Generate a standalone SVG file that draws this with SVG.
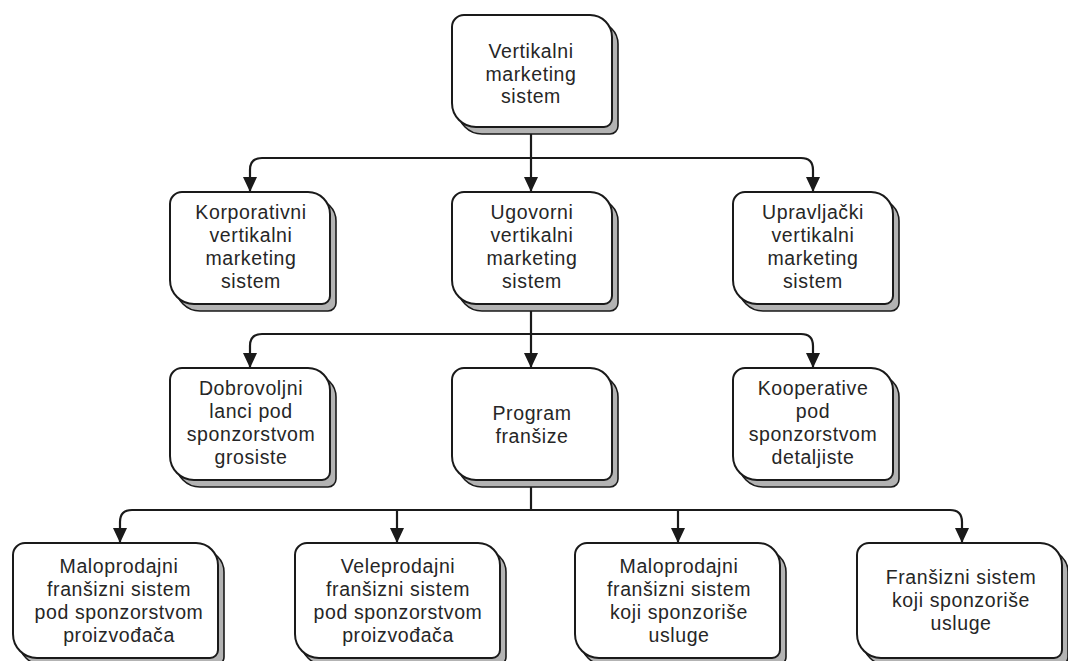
<svg xmlns="http://www.w3.org/2000/svg" xmlns:xlink="http://www.w3.org/1999/xlink" width="1068" height="661" viewBox="0 0 1068 661">
  <style>
    .shadow { fill: #b3b3b3; stroke: #1a1a1a; stroke-width: 1.6; }
    .box { fill: #ffffff; stroke: #1a1a1a; stroke-width: 2; }
    .lbl { font-family: "Liberation Sans", Arial, sans-serif; font-size: 19.5px; letter-spacing: 0.6px; fill: #262626; text-anchor: middle; }
    .wire { fill: none; stroke: #1a1a1a; stroke-width: 2.2; }
    .arrow { marker-end: url(#head); }
  </style>
  <defs>
    <!-- card outline: small top-left and bottom-right radii, large top-right and bottom-left -->
    <path id="cardA" d="M12,0 H138 A22,22 0 0 1 160,22 V104 A8,8 0 0 1 152,112 H24 A24,24 0 0 1 0,88 V12 A12,12 0 0 1 12,0 Z"/>
    <path id="cardB" d="M12,0 H183 A22,22 0 0 1 205,22 V107 A8,8 0 0 1 197,115 H24 A24,24 0 0 1 0,91 V12 A12,12 0 0 1 12,0 Z"/>
    <!-- solid triangular head, tip at the end of the line -->
    <marker id="head" markerUnits="userSpaceOnUse" markerWidth="16" markerHeight="16" viewBox="0 0 16 16" refX="15" refY="7" orient="auto">
      <path d="M0,0 L15,7 L0,14 Z" fill="#1a1a1a"/>
    </marker>
  </defs>

  <rect width="1068" height="661" fill="#ffffff"/>

  <!-- connectors -->
  <g id="connectors">
    <!-- level 1 -> level 2 -->
    <path class="wire" d="M531,128 V158"/>
    <path class="wire arrow" d="M531,158 V192"/>
    <path class="wire arrow" d="M531,158 H262 Q250,158 250,170 V192"/>
    <path class="wire arrow" d="M531,158 H801 Q813,158 813,170 V192"/>
    <!-- level 2 -> level 3 -->
    <path class="wire" d="M531,304 V334"/>
    <path class="wire arrow" d="M531,334 V368"/>
    <path class="wire arrow" d="M531,334 H262 Q250,334 250,346 V368"/>
    <path class="wire arrow" d="M531,334 H801 Q813,334 813,346 V368"/>
    <!-- level 3 -> level 4 -->
    <path class="wire" d="M531,480 V510"/>
    <path class="wire arrow" d="M531,510 H132 Q120,510 120,522 V543"/>
    <path class="wire arrow" d="M397,510 V543"/>
    <path class="wire arrow" d="M678,510 V543"/>
    <path class="wire arrow" d="M531,510 H950 Q962,510 962,522 V543"/>
  </g>

  <!-- level 1 -->
  <g id="n-vms">
    <use xlink:href="#cardA" class="shadow" x="458" y="22"/>
    <use xlink:href="#cardA" class="box" x="452" y="15"/>
    <text class="lbl" x="531" y="58">Vertikalni</text>
    <text class="lbl" x="531" y="80.5">marketing</text>
    <text class="lbl" x="531" y="103">sistem</text>
  </g>

  <!-- level 2 -->
  <g id="n-korporativni">
    <use xlink:href="#cardA" class="shadow" x="176" y="199"/>
    <use xlink:href="#cardA" class="box" x="170" y="192"/>
    <text class="lbl" x="251" y="219">Korporativni</text>
    <text class="lbl" x="251" y="242">vertikalni</text>
    <text class="lbl" x="251" y="265">marketing</text>
    <text class="lbl" x="251" y="288">sistem</text>
  </g>
  <g id="n-ugovorni">
    <use xlink:href="#cardA" class="shadow" x="458" y="199"/>
    <use xlink:href="#cardA" class="box" x="452" y="192"/>
    <text class="lbl" x="532" y="219">Ugovorni</text>
    <text class="lbl" x="532" y="242">vertikalni</text>
    <text class="lbl" x="532" y="265">marketing</text>
    <text class="lbl" x="532" y="288">sistem</text>
  </g>
  <g id="n-upravljacki">
    <use xlink:href="#cardA" class="shadow" x="739" y="199"/>
    <use xlink:href="#cardA" class="box" x="733" y="192"/>
    <text class="lbl" x="813" y="219">Upravljački</text>
    <text class="lbl" x="813" y="242">vertikalni</text>
    <text class="lbl" x="813" y="265">marketing</text>
    <text class="lbl" x="813" y="288">sistem</text>
  </g>

  <!-- level 3 -->
  <g id="n-dobrovoljni">
    <use xlink:href="#cardA" class="shadow" x="176" y="375"/>
    <use xlink:href="#cardA" class="box" x="170" y="368"/>
    <text class="lbl" x="251" y="395">Dobrovoljni</text>
    <text class="lbl" x="251" y="418">lanci pod</text>
    <text class="lbl" x="251" y="441">sponzorstvom</text>
    <text class="lbl" x="251" y="464">grosiste</text>
  </g>
  <g id="n-program">
    <use xlink:href="#cardA" class="shadow" x="458" y="375"/>
    <use xlink:href="#cardA" class="box" x="452" y="368"/>
    <text class="lbl" x="532" y="420">Program</text>
    <text class="lbl" x="532" y="443">franšize</text>
  </g>
  <g id="n-kooperative">
    <use xlink:href="#cardA" class="shadow" x="739" y="375"/>
    <use xlink:href="#cardA" class="box" x="733" y="368"/>
    <text class="lbl" x="813" y="395">Kooperative</text>
    <text class="lbl" x="813" y="418">pod</text>
    <text class="lbl" x="813" y="441">sponzorstvom</text>
    <text class="lbl" x="813" y="464">detaljiste</text>
  </g>

  <!-- level 4 -->
  <g id="n-malo-proizv">
    <use xlink:href="#cardB" class="shadow" x="19" y="550"/>
    <use xlink:href="#cardB" class="box" x="13" y="543"/>
    <text class="lbl" x="119" y="573">Maloprodajni</text>
    <text class="lbl" x="119" y="596">franšizni sistem</text>
    <text class="lbl" x="119" y="619">pod sponzorstvom</text>
    <text class="lbl" x="119" y="642">proizvođača</text>
  </g>
  <g id="n-velo-proizv">
    <use xlink:href="#cardB" class="shadow" x="301" y="550"/>
    <use xlink:href="#cardB" class="box" x="295" y="543"/>
    <text class="lbl" x="398" y="573">Veleprodajni</text>
    <text class="lbl" x="398" y="596">franšizni sistem</text>
    <text class="lbl" x="398" y="619">pod sponzorstvom</text>
    <text class="lbl" x="398" y="642">proizvođača</text>
  </g>
  <g id="n-malo-usluge">
    <use xlink:href="#cardB" class="shadow" x="581" y="550"/>
    <use xlink:href="#cardB" class="box" x="575" y="543"/>
    <text class="lbl" x="679" y="573">Maloprodajni</text>
    <text class="lbl" x="679" y="596">franšizni sistem</text>
    <text class="lbl" x="679" y="619">koji sponzoriše</text>
    <text class="lbl" x="679" y="642">usluge</text>
  </g>
  <g id="n-fran-usluge">
    <use xlink:href="#cardB" class="shadow" x="863" y="550"/>
    <use xlink:href="#cardB" class="box" x="857" y="543"/>
    <text class="lbl" x="961" y="584">Franšizni sistem</text>
    <text class="lbl" x="961" y="607">koji sponzoriše</text>
    <text class="lbl" x="961" y="630">usluge</text>
  </g>
</svg>
